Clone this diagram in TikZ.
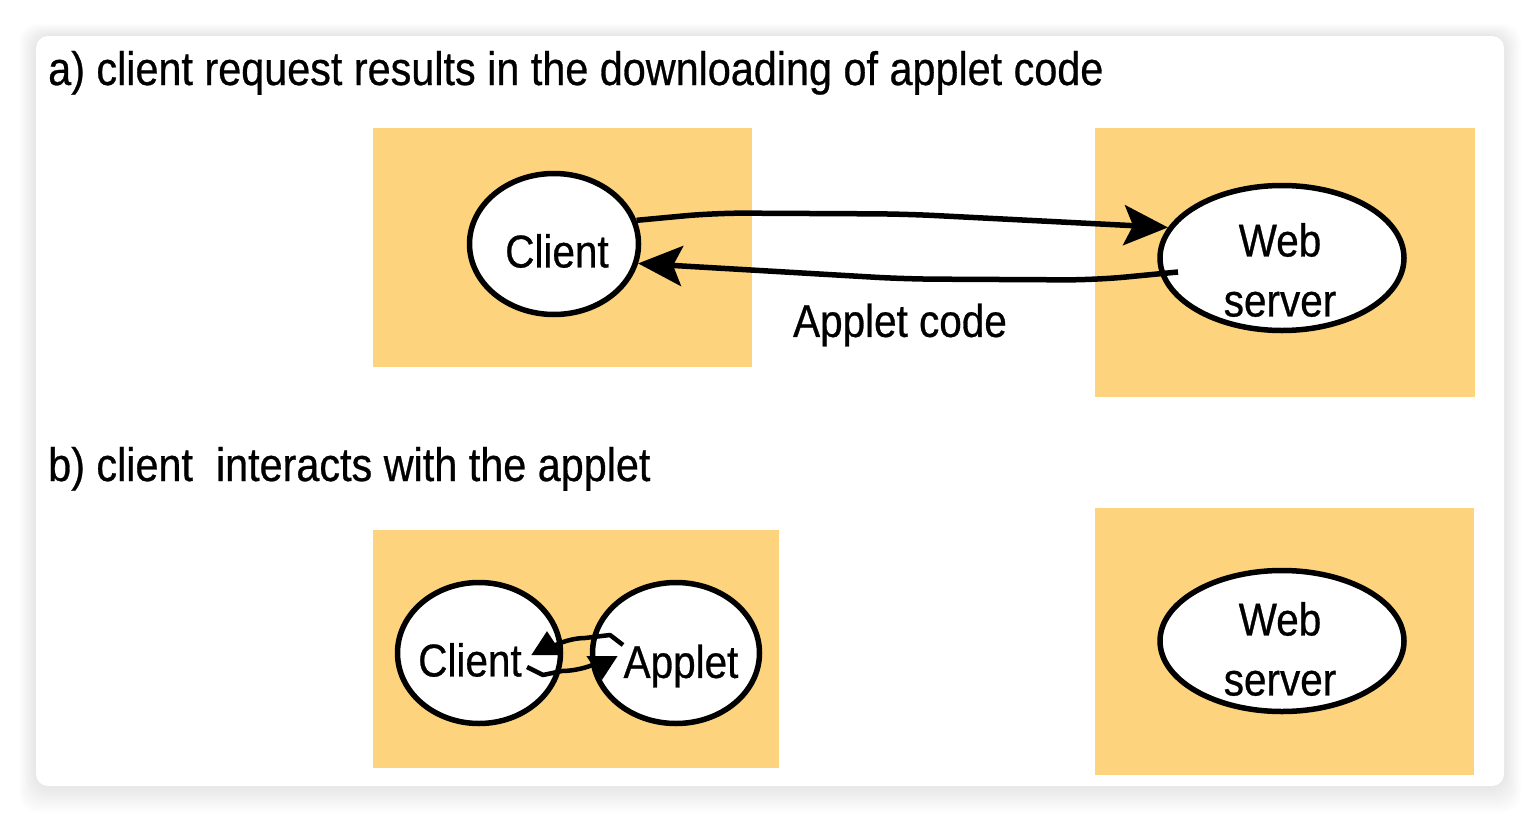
\documentclass[tikz,border=0pt]{standalone}
\usepackage{fontspec}
\setmainfont[FakeStretch=0.88,FakeBold=0.6]{Liberation Sans}
\usetikzlibrary{arrows.meta,shapes.geometric,calc}
\definecolor{panel}{RGB}{254,211,126}
\begin{document}
\begin{tikzpicture}[x=1pt,y=-1pt,
  panelbox/.style={fill=panel,draw=none},
  host/.style={ellipse,draw,line width=5.5pt,fill=white,inner sep=0pt},
  lbl/.style={font=\fontsize{46}{60}\selectfont,inner sep=0pt,align=center},
  heading/.style={font=\fontsize{47}{56}\selectfont,inner sep=0pt,anchor=base west},
  flow/.style={line width=5.5pt,rounded corners=30pt,-{Stealth[length=44pt,width=40pt,inset=9pt]}},
  hop/.style={line width=4.5pt,line join=round,-{Triangle[length=24pt,width=30pt]}}]
\useasboundingbox (0,0) rectangle (1540,822);
\fill[white] (0,0) rectangle (1540,822);

% soft drop shadow under the card
\foreach \i in {2,4,...,24} {
  \fill[black,opacity=0.009,rounded corners=18pt]
    ($(36,36)+(-0.7*\i,-0.5*\i)$) rectangle ($(1504,786)+(0.7*\i,1.1*\i)$);
}
\fill[white,rounded corners=12pt] (36,36) rectangle (1504,786);

% (a) downloading the applet
\node[heading] (ta) at (48,85) {a) client request results in the downloading of applet code};
\fill[panelbox] (373,128) rectangle (752,367);
\fill[panelbox] (1095,128) rectangle (1475,397);
\node[host,minimum width=169pt,minimum height=141pt] (ca) at (554,244) {};
\node[host,minimum width=244pt,minimum height=145pt] (wa) at (1282,258) {};
\node[lbl] (caT) at (557,251) {Client};
\node[lbl] (waT) at (1280,270) {Web\\server};

\draw[flow] (ca.16) -- (715,213) -- (905,214) -- (wa.165);
\coordinate (wsrc) at ($(wa.center)+(-104,14)$);
\draw[flow] (wsrc) -- (1095,280) -- (905,279) -- (ca.-13);
\node[lbl] (code) at (900,325) {Applet code};

% (b) client and applet interacting locally
\node[heading] (tb) at (48,481) {b) client\ \ interacts with the applet};
\fill[panelbox] (373,530) rectangle (779,768);
\fill[panelbox] (1095,508) rectangle (1474,775);
\node[host,minimum width=163pt,minimum height=141pt] (cb) at (479,653) {};
\node[host,minimum width=167pt,minimum height=141pt] (ab) at (676,653) {};
\node[host,minimum width=244pt,minimum height=141pt] (wb) at (1282,641) {};
\node[lbl] (cbT) at (470,660) {Client};
\node[lbl] (abT) at (681,666) {Applet};
\node[lbl] (wbT) at (1280,649) {Web\\server};

% short hooked arrows between client and applet
\coordinate (aout) at ($(ab.center)+(-53,-8)$);
\coordinate (cin) at ($(cb.center)+(68,-22)$);
\draw[hop] (aout) -- (610,635) -- (585,638) to[out=180,in=-90] (cin);
\coordinate (cout) at ($(cb.center)+(48,14)$);
\coordinate (ain) at ($(ab.center)+(-74,27)$);
\draw[hop] (cout) -- (543,675) -- (562,671) to[out=0,in=90] (ain);
\end{tikzpicture}
\end{document}
